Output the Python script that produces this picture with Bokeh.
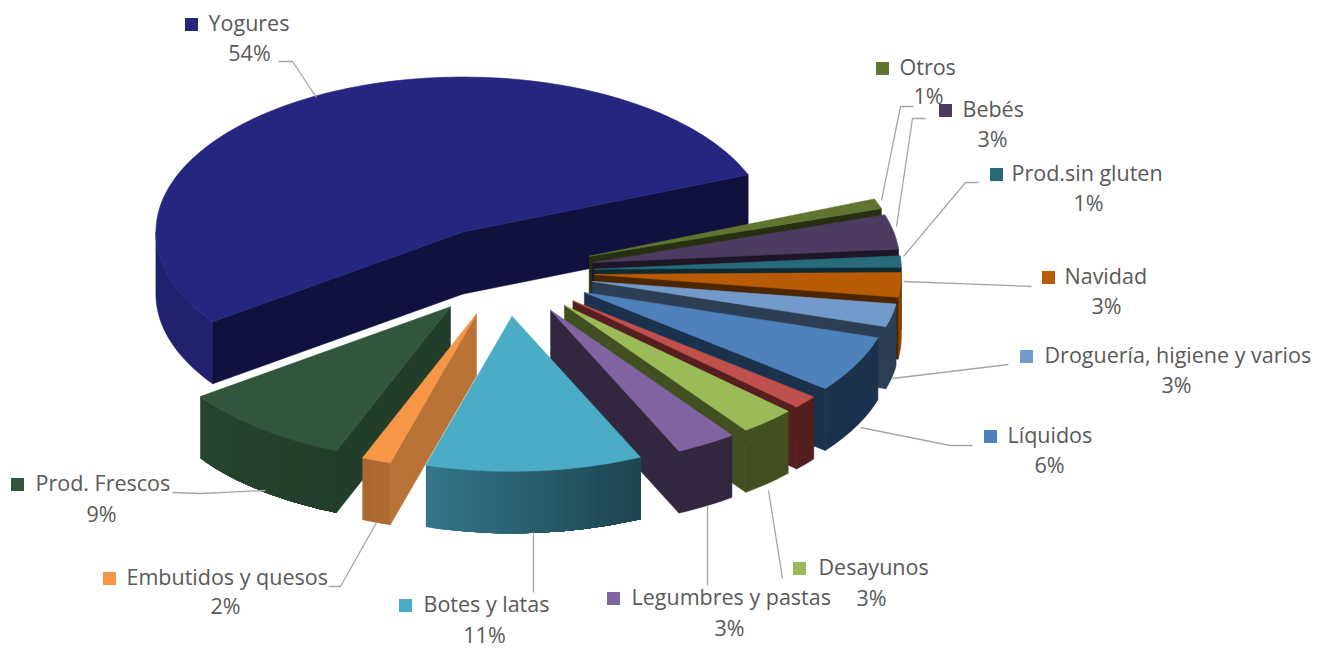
import math
from bokeh.plotting import figure
from bokeh.models import ColumnDataSource, Range1d
from bokeh.core.properties import value
from bokeh.embed import file_html
from bokeh.resources import INLINE

# ---- data (clockwise from Yogures), estimated shares in percent
names = ["Yogures", "Otros", "Bebés", "Prod.sin gluten", "Navidad",
         "Droguería, higiene y varios", "Líquidos", "", "Desayunos",
         "Legumbres y pastas", "Botes y latas", "Embutidos y quesos", "Prod. Frescos"]
shares = [53.8, 1.05, 3.6, 1.17, 2.55, 2.39, 5.92, 1.36, 2.94, 3.19, 11.39, 1.53, 9.11]
pct_labels = ["54%", "1%", "3%", "1%", "3%", "3%", "6%", "", "3%", "3%", "11%", "2%", "9%"]

# ---- styles
top_col = ["#25267f", "#5f7530", "#4e3b62", "#276a7c", "#b85b04", "#729aca", "#4f81bd",
           "#c0504d", "#9bbb59", "#8064a2", "#4bacc6", "#f79646", "#31563b"]
face_col = ["#11113f", "#262f10", "#1e1626", "#0f2a31", "#4d2600", "#2c3e53", "#1b324d",
            "#541f1d", "#414f21", "#33273f", "#33273f", "#ba7337", "#223d2a"]
rim_l = ["#21226f", "#262f10", "#1e1626", "#0f2a31", "#8a4503", "#2c3e53", "#1b324d",
         "#541f1d", "#414f21", "#33273f", "#33758a", "#a9672f", "#254530"]
rim_r = ["#21226f", "#262f10", "#1e1626", "#0f2a31", "#8a4503", "#2c3e53", "#1b324d",
         "#541f1d", "#414f21", "#33273f", "#1d4450", "#b06b32", "#233e2a"]

# ---- geometry of the 3D pie (pixel space of the page)
CX, CY, RX, RY, DEPTH, EXPLODE, START = 505, 271, 307, 155, 62, 0.29, 215.4
FONT = "Open Sans"
FSIZE = "21.5px"
TEXT_DY = -2.5


def lerp(a, b, f):
    ca = [int(a[i:i + 2], 16) for i in (1, 3, 5)]
    cb = [int(b[i:i + 2], 16) for i in (1, 3, 5)]
    return "#%02x%02x%02x" % tuple(round(x + (y - x) * f) for x, y in zip(ca, cb))


def ell(t):
    r = math.radians(t)
    return RX * math.cos(r), -RY * math.sin(r)


slices = []
t = START
for i, s in enumerate(shares):
    t0, t1 = t, t - s * 3.6
    t = t1
    mid = (t0 + t1) / 2
    ox, oy = ell(mid)
    slices.append(dict(i=i, t0=t0, t1=t1, mid=mid,
                       tx=CX + EXPLODE * ox, ty=CY + EXPLODE * oy))

order = sorted(slices, key=lambda d: -math.sin(math.radians(d["mid"])))

xs, ys, cols, lws = [], [], [], []


def add(px, py, c, lw=0.6):
    xs.append(px)
    ys.append(py)
    cols.append(c)
    lws.append(lw)


def arc(tx, ty, a, b, step=1.5):
    n = max(2, int(abs(b - a) / step))
    pts = [ell(a + (b - a) * k / n) for k in range(n + 1)]
    return [tx + q[0] for q in pts], [ty + q[1] for q in pts]


for d in order:
    i, tx, ty = d["i"], d["tx"], d["ty"]
    # rim: only the part facing the viewer, painted left to right
    ranges = []
    a, b = d["t1"], d["t0"]
    for lo, hi in ((-180, 0), (180, 360), (-540, -360)):
        l, h = max(a, lo), min(b, hi)
        if h > l:
            ranges.append((l, h))
    for l, h in ranges:
        n = 1 if rim_l[i] == rim_r[i] else max(2, int((h - l) / 1.5))
        for k in range(n):
            a0 = l + (h - l) * k / n
            ax, ay = arc(tx, ty, a0, h)
            c = lerp(rim_l[i], rim_r[i], (k + 0.5) / n)
            add(ax + ax[::-1], ay + [v + DEPTH for v in ay[::-1]], c, 0.6 if n == 1 else 0)
    # radial faces
    for ang, sgn in ((d["t0"], 90), (d["t1"], -90)):
        if math.sin(math.radians(ang + sgn)) < 0:
            ex, ey = ell(ang)
            add([tx, tx + ex, tx + ex, tx],
                [ty, ty + ey, ty + ey + DEPTH, ty + DEPTH], face_col[i])
    # top
    ax, ay = arc(tx, ty, d["t1"], d["t0"])
    add([tx] + ax, [ty] + ay, top_col[i])

p = figure(width=1330, height=648, x_range=Range1d(0, 1330), y_range=Range1d(648, 0),
           output_backend="svg", toolbar_location=None, min_border=0)
p.axis.visible = False
p.grid.visible = False
p.outline_line_color = None
p.background_fill_color = "#ffffff"

p.patches("xs", "ys", fill_color="c", line_color="c", line_width="lw",
          source=ColumnDataSource(dict(xs=xs, ys=ys, c=cols, lw=lws)))

# ---- leader lines (page pixels)
leaders = [
    [(316, 97), (292, 61), (278, 61)],
    [(881, 200), (900, 106), (913, 106)],
    [(896, 226), (912, 118), (925, 118)],
    [(903, 256), (965, 182), (978, 182)],
    [(903, 281), (1031, 286)],
    [(892, 378), (1008, 364)],
    [(860, 427), (950, 445), (972, 445)],
    [(768, 490), (782, 578)],
    [(707, 505), (707, 585)],
    [(533, 532), (533, 592)],
    [(376, 522), (340, 586), (328, 586)],
    [(265, 490), (200, 493), (172, 492)],
]
p.multi_line([[q[0] for q in l] for l in leaders], [[q[1] for q in l] for l in leaders],
             line_color="#a6a6a6", line_width=1.3)

# ---- labels (page pixels): marker centre, name start, percent centre
label_layout = {
    "Yogures": ((191, 24), 208, (249, 54)),
    "Otros": ((882, 68), 899, (928, 97)),
    "Bebés": ((945, 110), 962, (992, 140)),
    "Prod.sin gluten": ((996, 174), 1011, (1088, 204)),
    "Navidad": ((1048, 277), 1064, (1106, 307)),
    "Droguería, higiene y varios": ((1026, 356), 1044, (1176, 386)),
    "Líquidos": ((990, 436), 1007, (1049, 466)),
    "Desayunos": ((799, 568), 818, (871, 599)),
    "Legumbres y pastas": ((613, 598), 631, (729, 629)),
    "Botes y latas": ((405, 605), 423, (484, 636)),
    "Embutidos y quesos": ((109, 578), 126, (225, 607)),
    "Prod. Frescos": ((17, 484), 35, (101, 515)),
}
for i, n in enumerate(names):
    if not n:
        continue
    (mx, my), nx, (qx, qy) = label_layout[n]
    p.text([nx], [my + TEXT_DY], text=[n], text_font=value(FONT), text_font_size=FSIZE,
           text_color="#595959", text_baseline="middle", text_align="left")
    p.text([qx], [qy + TEXT_DY], text=[pct_labels[i]], text_font=value(FONT), text_font_size=FSIZE,
           text_color="#595959", text_baseline="middle", text_align="center")
    p.scatter([mx], [my], marker="square", size=13, fill_color=top_col[i], line_color=None)

open("out.html", "w").write(file_html(p, INLINE))
